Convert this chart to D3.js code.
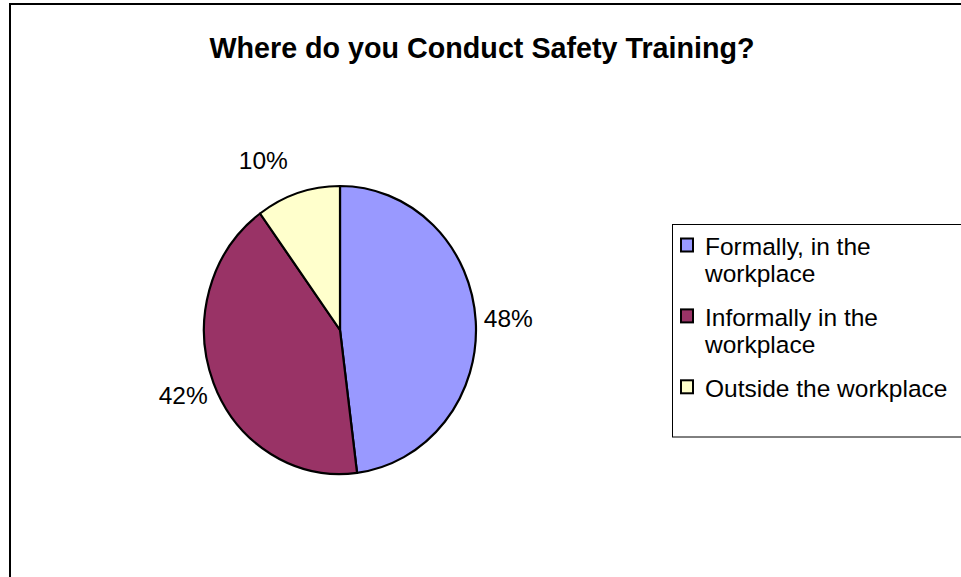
<!DOCTYPE html>
<html><head><meta charset="utf-8">
<script src="https://cdn.jsdelivr.net/npm/d3@7"></script>
<style>html,body{margin:0;padding:0;background:#fff;overflow:hidden;} svg{display:block;}</style>
</head><body>
<svg id="chart" width="961" height="577"></svg>
<script>
const title = "Where do you Conduct Safety Training?";
const categories = ["Formally, in the workplace", "Informally in the workplace", "Outside the workplace"];
const values = [48, 42, 10];
const colors = ["#9999FF", "#993366", "#FFFFCC"];

const FONT = "'Liberation Sans', Arial, sans-serif";
const svg = d3.select("#chart");
const W = 961, H = 577;

// chart area border
svg.append("rect").attr("x", 10).attr("y", 4).attr("width", W + 10).attr("height", H + 10)
  .attr("fill", "#fff").attr("stroke", "#000").attr("stroke-width", 2);

// title
svg.append("text").attr("x", 482).attr("y", 58).attr("text-anchor", "middle")
  .attr("font-family", FONT).attr("font-weight", "bold").attr("font-size", "28.7px")
  .attr("fill", "#000").text(title);

// pie (slightly elliptical as in reference)
const cx = 340, cy = 330, rx = 136, ry = 144;
const pie = d3.pie().sort(null).value(d => d)(values);
const arc = d3.arc().innerRadius(0).outerRadius(rx);
const g = svg.append("g").attr("transform", `translate(${cx},${cy}) scale(1,${ry / rx})`);
g.selectAll("path").data(pie).join("path")
  .attr("d", arc)
  .attr("fill", (d, i) => colors[i])
  .attr("stroke", "#000").attr("stroke-width", 2.2)
  .attr("stroke-linejoin", "round")
  .attr("vector-effect", "non-scaling-stroke");

// data labels ("best fit" style placement outside the pie)
const k = 1.24;
const labels = svg.selectAll("text.lbl").data(pie).join("text").attr("class", "lbl")
  .attr("dy", "0.35em").attr("text-anchor", "middle")
  .attr("font-family", FONT).attr("font-size", "24.5px").attr("fill", "#000")
  .text(d => d.value + "%");
labels.each(function(d) {
  const a = (d.startAngle + d.endAngle) / 2;
  const s = Math.sin(a), c = Math.cos(a);
  const w = this.getComputedTextLength();
  const shift = Math.abs(s) < 0.5 ? Math.sign(s) * w / 2 : 0;
  d3.select(this)
    .attr("x", cx + k * rx * s + shift)
    .attr("y", cy - k * ry * c);
});

// legend
const lx = 672, ly = 224;
svg.append("rect").attr("x", lx + 0.5).attr("y", ly + 0.5).attr("width", 400).attr("height", 212.5)
  .attr("fill", "#fff").attr("stroke", "#000").attr("stroke-width", 1);

const maxW = 255, lineH = 26.7, entryGap = 44.2;
let baseY = 255;
const measure = svg.append("text").attr("font-family", FONT).attr("font-size", "24.5px").attr("visibility", "hidden");
categories.forEach((cat, i) => {
  const words = cat.split(" ");
  const lines = [];
  let cur = "";
  words.forEach(w => {
    const test = cur ? cur + " " + w : w;
    measure.text(test);
    if (measure.node().getComputedTextLength() > maxW && cur) { lines.push(cur); cur = w; }
    else cur = test;
  });
  lines.push(cur);
  svg.append("rect").attr("x", 681).attr("y", baseY - 16.5).attr("width", 12).attr("height", 13)
    .attr("fill", colors[i]).attr("stroke", "#000").attr("stroke-width", 2);
  const t = svg.append("text").attr("font-family", FONT).attr("font-size", "24.5px").attr("fill", "#000");
  lines.forEach((ln, j) => {
    t.append("tspan").attr("x", 705).attr("y", baseY + j * lineH).text(ln);
  });
  baseY += (lines.length - 1) * lineH + entryGap;
});
measure.remove();
</script>
</body></html>
